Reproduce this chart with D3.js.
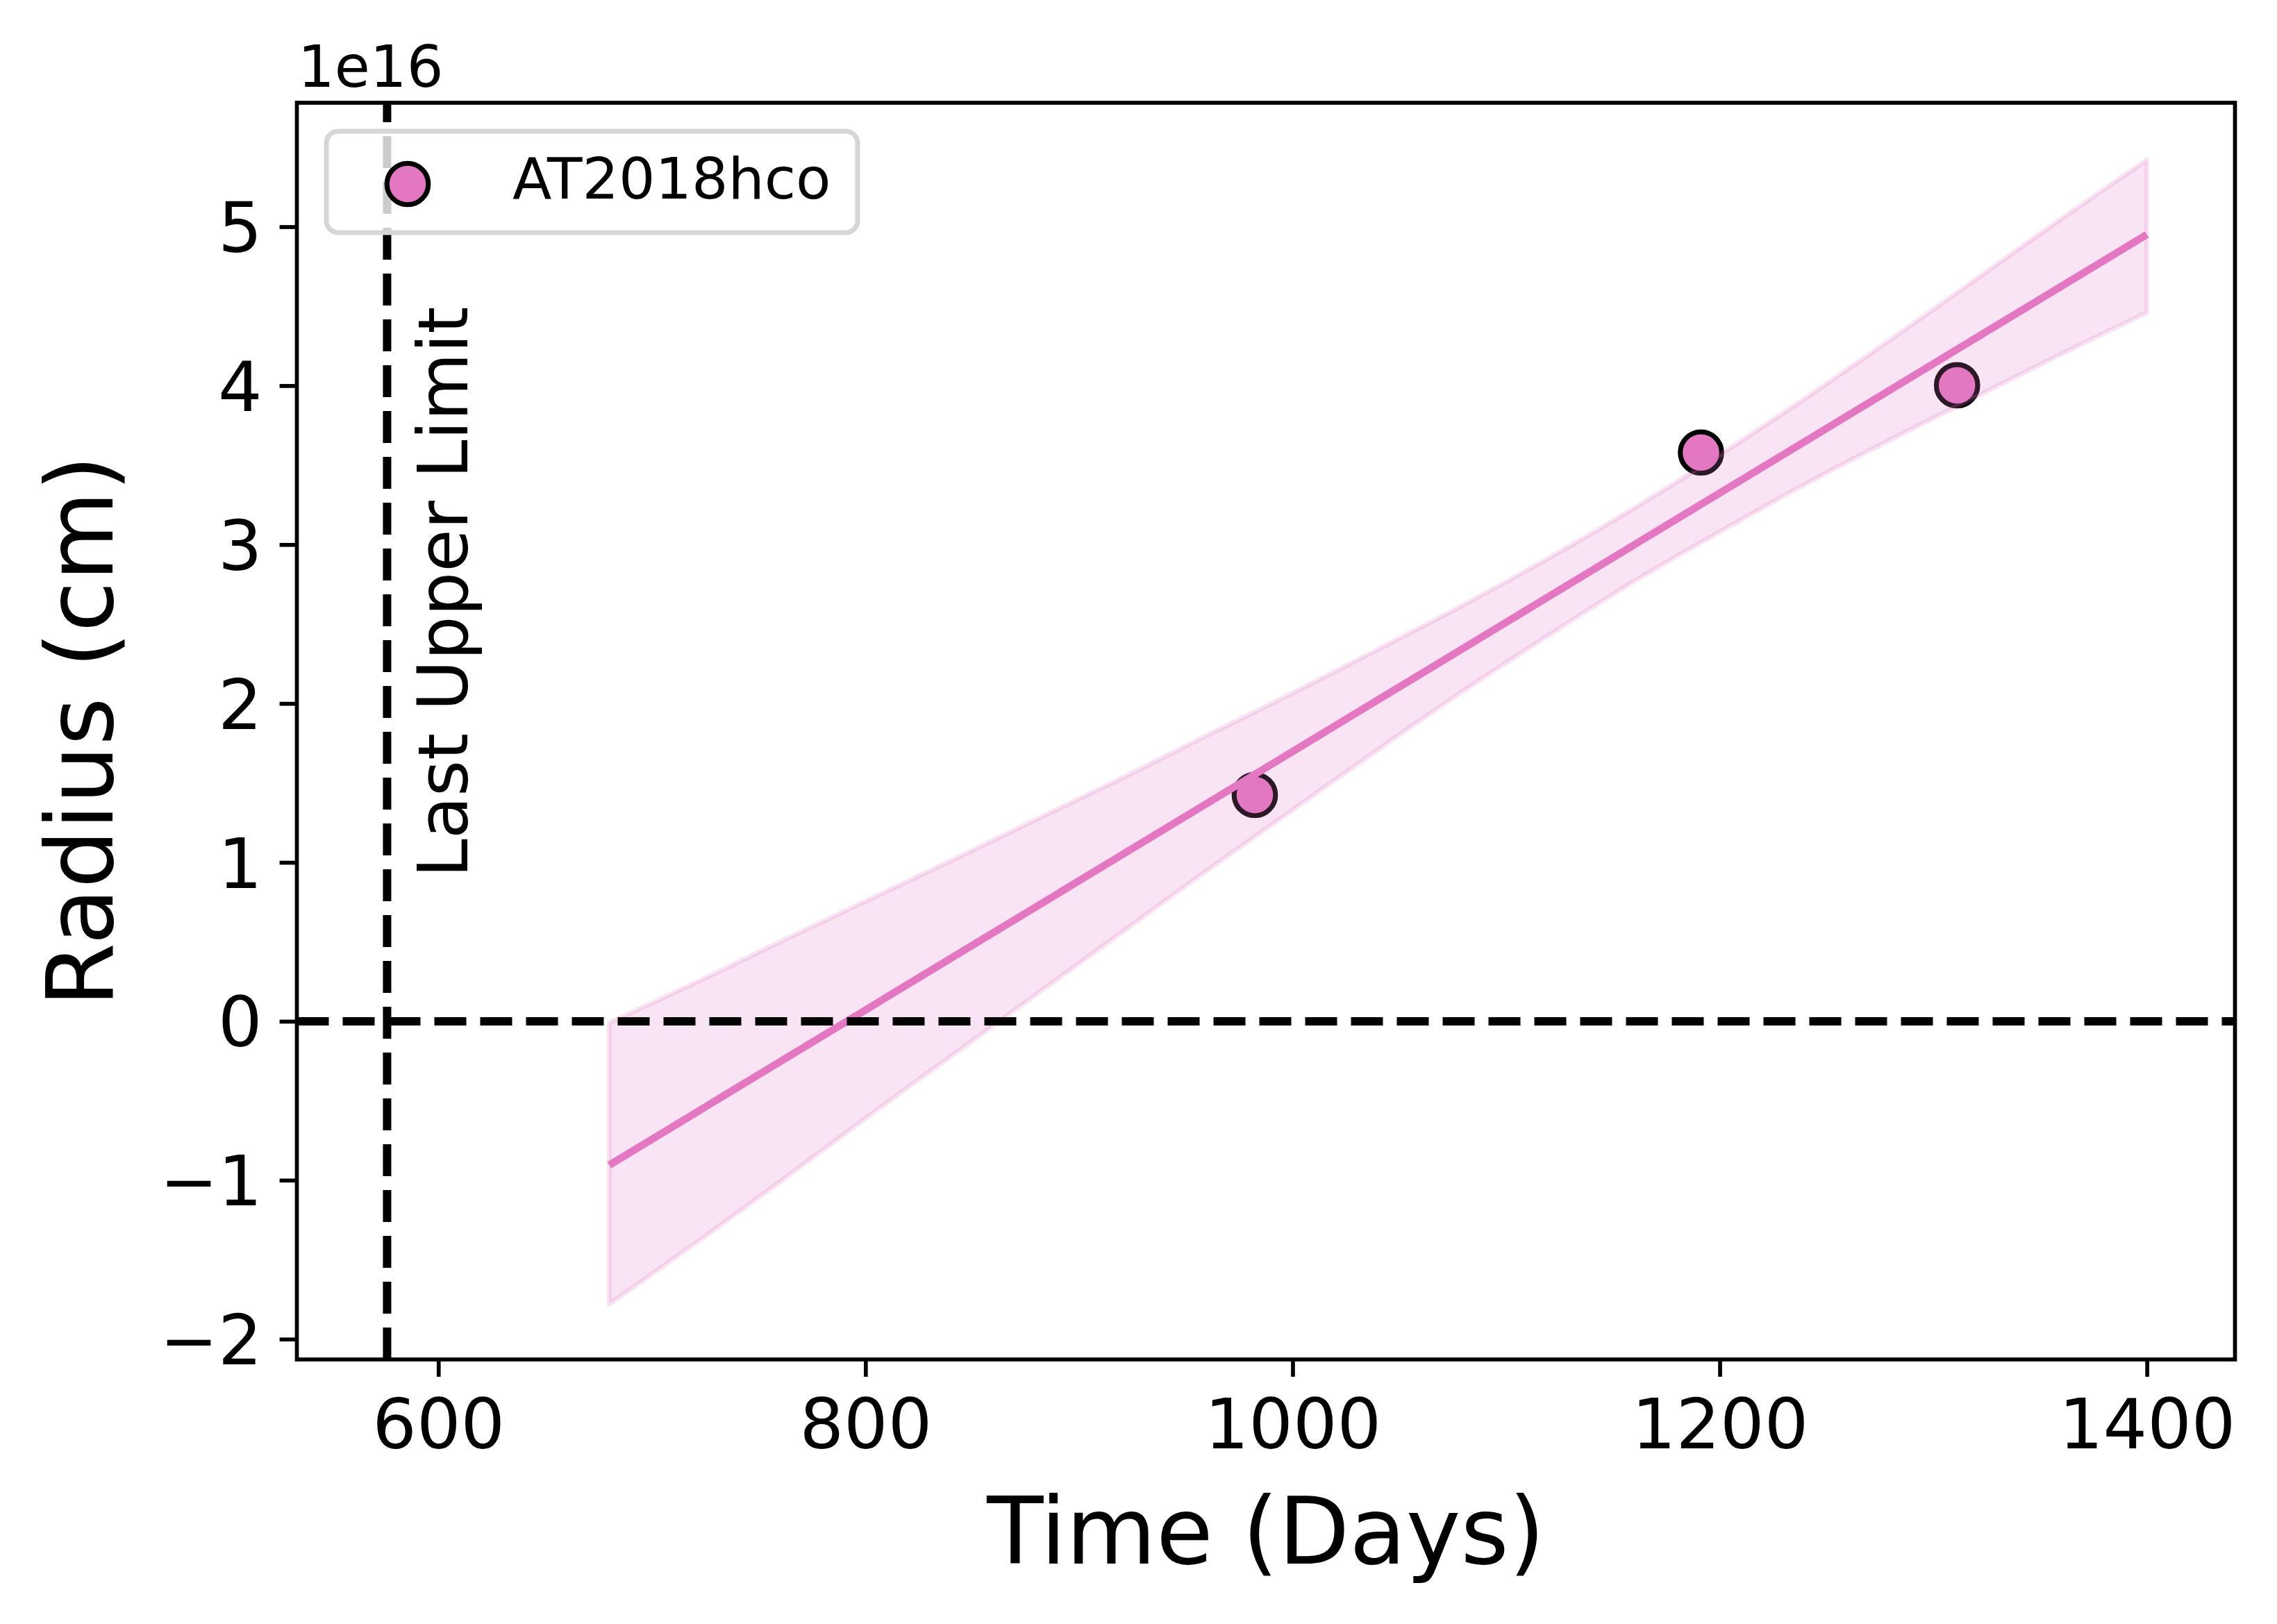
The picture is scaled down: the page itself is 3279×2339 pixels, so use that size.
<!DOCTYPE html>
<html><head><meta charset="utf-8">
<script src="https://cdn.jsdelivr.net/npm/d3@7"></script>
<style>body{margin:0;background:#fff} svg{display:block} text{font-family:"DejaVu Sans",sans-serif;fill:#000}</style>
</head><body><svg id="c" width="3279" height="2339"></svg>
<script>
// ---- data (radius in units of 1e16 cm) ----
const seriesName = "AT2018hco";
const obsDays   = [982.3, 1191.2, 1311.1];
const obsRadius = [1.424, 3.579, 4.002];
const fitDays   = [680, 1400];
const fitRadius = [-0.905, 4.951];
const bandDays  = [680,720,760,800,840,880,920,960,1000,1040,1080,1120,1160,1200,1240,1280,1320,1360,1400];
const bandUpper = [-0.01,0.24,0.50,0.755,1.01,1.27,1.53,1.80,2.065,2.34,2.62,2.915,3.23,3.565,3.92,4.29,4.67,5.05,5.42];
const bandLower = [-1.78,-1.40,-1.01,-0.61,-0.22,0.17,0.56,0.95,1.33,1.71,2.08,2.43,2.77,3.08,3.38,3.66,3.93,4.20,4.46];
const lastUpperLimitDay = 576;
const xTicks = [600, 800, 1000, 1200, 1400];
const yTicks = [-2, -1, 0, 1, 2, 3, 4, 5];
const offsetLabel = "1e16";

// ---- layout ----
const L = 427.5, R = 3218.5, T = 148, B = 1958;
const pink = "#e377c2";
const svg = d3.select("#c");
const x = d3.scaleLinear().domain([533.75, 1441.25]).range([L, R]);
const y = d3.scaleLinear().domain([-2.128, 5.78]).range([B, T]);

svg.append("defs").append("clipPath").attr("id","clip")
  .append("rect").attr("x",L).attr("y",T).attr("width",R-L).attr("height",B-T);

const fmt = d => d < 0 ? "\u2212" + Math.abs(d) : String(d);

// axes via d3
const xAxis = svg.append("g").attr("transform",`translate(0,${B})`)
  .call(d3.axisBottom(x).tickValues(xTicks).tickSize(24.9).tickPadding(24.9).tickFormat(fmt));
const yAxis = svg.append("g").attr("transform",`translate(${L},0)`)
  .call(d3.axisLeft(y).tickValues(yTicks).tickSize(24.9).tickPadding(24.9).tickFormat(fmt));
[xAxis, yAxis].forEach(g => {
  g.select(".domain").remove();
  g.selectAll(".tick line").attr("stroke","#000").attr("stroke-width",5.7);
  g.selectAll(".tick text").attr("font-size",100).attr("font-family","DejaVu Sans").attr("fill","#000");
});
xAxis.selectAll(".tick text").attr("dy",null).attr("y",null)
  .attr("transform","translate(0,128)").attr("dominant-baseline","alphabetic");
yAxis.selectAll(".tick text").attr("dy","0.36em");

const plot = svg.append("g").attr("clip-path","url(#clip)");

// scatter points
plot.selectAll("circle.obs").data(obsDays.map((d,i)=>[d,obsRadius[i]])).enter()
  .append("circle").attr("class","obs")
  .attr("cx",d=>x(d[0])).attr("cy",d=>y(d[1])).attr("r",29.8)
  .attr("fill",pink).attr("stroke","#000").attr("stroke-width",7.1);

// confidence band
const bandData = bandDays.map((d,i)=>({t:d,u:bandUpper[i],l:bandLower[i]}));
const area = d3.area().x(d=>x(d.t)).y0(d=>y(d.l)).y1(d=>y(d.u)).curve(d3.curveMonotoneX);
plot.append("path").datum(bandData).attr("d",area)
  .attr("fill",pink).attr("fill-opacity",0.2)
  .attr("stroke",pink).attr("stroke-opacity",0.2).attr("stroke-width",7.1)
  .attr("stroke-linejoin","round");

// fit line
const line = d3.line().x(d=>x(d[0])).y(d=>y(d[1]));
plot.append("path").datum(fitDays.map((d,i)=>[d,fitRadius[i]])).attr("d",line)
  .attr("fill","none").attr("stroke",pink).attr("stroke-width",10.7);

// dashed reference lines
plot.append("line").attr("x1",L).attr("x2",R).attr("y1",y(0)).attr("y2",y(0))
  .attr("stroke","#000").attr("stroke-width",12).attr("stroke-dasharray","46,20");
plot.append("line").attr("x1",x(lastUpperLimitDay)).attr("x2",x(lastUpperLimitDay))
  .attr("y1",B).attr("y2",T)
  .attr("stroke","#000").attr("stroke-width",12).attr("stroke-dasharray","46,20");

// annotation
svg.append("text").attr("transform","translate(673,1264) rotate(-90)")
  .attr("font-size",100).text("Last Upper Limit");

// spines
svg.append("rect").attr("x",L).attr("y",T).attr("width",R-L).attr("height",B-T)
  .attr("fill","none").attr("stroke","#000").attr("stroke-width",5.7);

// labels
svg.append("text").attr("x",(L+R)/2).attr("y",2252).attr("text-anchor","middle")
  .attr("font-size",133).text("Time (Days)");
svg.append("text").attr("transform",`translate(162,${(T+B)/2}) rotate(-90)`)
  .attr("text-anchor","middle").attr("font-size",133).text("Radius (cm)");
svg.append("text").attr("x",429).attr("y",125).attr("font-size",83).text(offsetLabel);

// legend
const lg = svg.append("g");
lg.append("rect").attr("x",470).attr("y",189).attr("width",765).attr("height",146)
  .attr("rx",17).attr("fill","#fff").attr("fill-opacity",0.8)
  .attr("stroke","#d6d6d6").attr("stroke-width",7);
lg.append("circle").attr("cx",587).attr("cy",265).attr("r",29.8)
  .attr("fill",pink).attr("stroke","#000").attr("stroke-width",7.1);
lg.append("text").attr("x",738).attr("y",286).attr("font-size",82.5).text(seriesName);
</script></body></html>
